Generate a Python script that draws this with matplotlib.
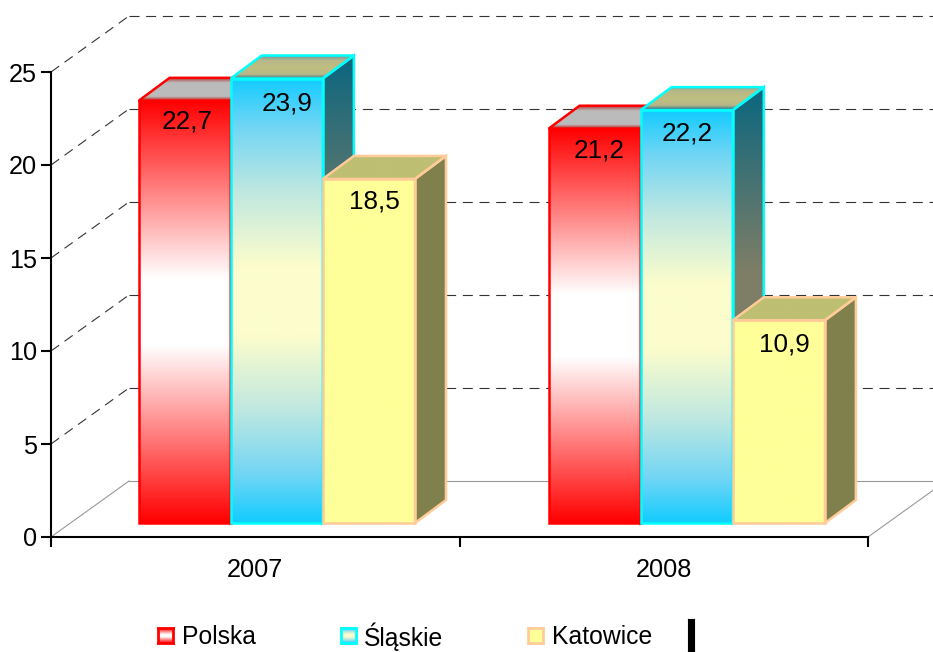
import numpy as np
import matplotlib
matplotlib.use("Agg")
import matplotlib.pyplot as plt
from matplotlib.colors import LinearSegmentedColormap
from matplotlib.patches import Polygon

plt.rcParams["font.family"] = ["Liberation Sans", "DejaVu Sans"]

years = ["2007", "2008"]
series_names = ["Polska", "Śląskie", "Katowice"]
polska = [22.7, 21.2]
slaskie = [23.9, 22.2]
katowice = [18.5, 10.9]
value_ticks = [0, 5, 10, 15, 20, 25]

W, H = 933, 652
PX_X = 408.5   # pixels per category
PX_Y = 18.6    # pixels per unit of value

bar_start = 0.2145
bar_w = 0.2255
group_step = 1.0035
base = 0.75    # bars stand in the middle of the floor
depth_x, depth_y = 31 / PX_X, 23 / PX_Y
wall_x, wall_y = 78 / PX_X, 56 / PX_Y


def cmap(*stops):
    return LinearSegmentedColormap.from_list("c", list(stops))


styles = {
    "Polska": dict(
        edge="#ff0000",
        front=cmap((0, "#ff0000"), (0.42, "#ffffff"), (0.58, "#ffffff"), (1, "#ff0000")),
        side=cmap((0, "#800000"), (0.42, "#808080"), (0.58, "#808080"), (1, "#800000")),
        top=cmap((0, "#c80000"), (0.2, "#bbbbbb"), (0.8, "#bbbbbb"), (1, "#b04040")),
    ),
    "Śląskie": dict(
        edge="#00ffff",
        front=cmap((0, "#13ccff"), (0.105, "#70d5f5"), (0.255, "#c0e8e0"), (0.42, "#fcfdcc"),
                   (0.58, "#fcfdcc"), (0.745, "#c0e8e0"), (0.895, "#70d5f5"), (1, "#13ccff")),
        side=cmap((0, "#0a6680"), (0.42, "#7e7e66"), (0.58, "#7e7e66"), (1, "#0a6680")),
        top=cmap((0, "#1a6f90"), (0.2, "#b8b888"), (0.5, "#bfbf80"), (0.8, "#b8b888"), (1, "#70a0a0")),
    ),
    "Katowice": dict(
        edge="#ffcc99",
        front=cmap((0, "#ffff99"), (1, "#ffff99")),
        side=cmap((0, "#80804d"), (1, "#80804d")),
        top=cmap((0, "#bfbf73"), (1, "#bfbf73")),
    ),
}
# small shifts of the value labels, in pixels from the bar centre / bar top
label_shift = {
    "Polska": [(3, -21), (5, -22)],
    "Śląskie": [(10, -25), (0, -23)],
    "Katowice": [(6, -23), (6, -24)],
}

fig = plt.figure(figsize=(W / 100, H / 100), dpi=100)
ax = fig.add_axes([51 / W, (H - 537) / H, 817 / W, 465 / H])
ax.patch.set_visible(False)


def grad_face(pts, colors, zorder):
    pts = np.array(pts)
    poly = Polygon(pts, closed=True, transform=ax.transData, fill=False, edgecolor="none")
    grad = np.linspace(0, 1, 256).reshape(-1, 1)
    im = ax.imshow(grad, cmap=colors, aspect="auto", origin="lower", zorder=zorder,
                   extent=[pts[:, 0].min(), pts[:, 0].max(), pts[:, 1].min(), pts[:, 1].max()])
    im.set_clip_box(fig.bbox)
    im.set_clip_path(poly)


def outline(pts, color, zorder):
    ax.add_patch(Polygon(pts, closed=True, fill=False, edgecolor=color, linewidth=1.8,
                         joinstyle="miter", clip_on=False, zorder=zorder))


# walls and grid
for v in value_ticks:
    col = "#999999" if v == 0 else "#333333"
    ls = "-" if v == 0 else (0, (9, 6))
    ax.plot([0, wall_x], [v, v + wall_y], color=col, lw=0.8, ls=ls, clip_on=False, zorder=1)
    ax.plot([wall_x, 2 + wall_x], [v + wall_y, v + wall_y], color=col, lw=0.8, ls=ls,
            clip_on=False, zorder=1)
ax.plot([2, 2 + wall_x], [0, wall_y], color="#999999", lw=0.8, clip_on=False, zorder=1)

# bars
z = 2
for i_year in range(len(years)):
    for j, (name, vals) in enumerate(zip(series_names, [polska, slaskie, katowice])):
        st = styles[name]
        x0 = i_year * group_step + bar_start + j * bar_w
        x1 = x0 + bar_w
        y1 = base + vals[i_year]
        side = [(x1, base), (x1 + depth_x, base + depth_y), (x1 + depth_x, y1 + depth_y), (x1, y1)]
        top = [(x0, y1), (x1, y1), (x1 + depth_x, y1 + depth_y), (x0 + depth_x, y1 + depth_y)]
        front = [(x0, base), (x1, base), (x1, y1), (x0, y1)]
        grad_face(side, st["side"], z)
        grad_face(top, st["top"], z)
        grad_face(front, st["front"], z)
        outline(side, st["edge"], z + 0.1)
        outline(top, st["edge"], z + 0.1)
        outline(front, st["edge"], z + 0.1)
        z += 1

# value labels on top of everything
for j, (name, vals) in enumerate(zip(series_names, [polska, slaskie, katowice])):
    for i_year, v in enumerate(vals):
        xc = i_year * group_step + bar_start + (j + 0.5) * bar_w
        ax.annotate(f"{v:.1f}".replace(".", ","), (xc, base + v),
                    xytext=label_shift[name][i_year], textcoords="offset pixels",
                    ha="center", va="center", fontsize=18.8, color="black",
                    annotation_clip=False, zorder=20)

ax.set_xlim(0, 2)
ax.set_ylim(0, 25)
for s in ["top", "right"]:
    ax.spines[s].set_visible(False)
for s in ["left", "bottom"]:
    ax.spines[s].set_linewidth(1.5)
ax.set_yticks(value_ticks)
ax.tick_params(axis="y", length=7, width=1.5, labelsize=18.2, pad=3)
ax.set_xticks([0, 1, 2])
ax.set_xticklabels([])
ax.tick_params(axis="x", which="major", length=7, width=1.5)
ax.set_xticks([0.5, 1.5], minor=True)
ax.set_xticklabels(years, minor=True, fontsize=18.2)
ax.tick_params(axis="x", which="minor", length=0, pad=15)

# legend
swatch_x = [158, 341, 528]
text_x = [182, 364, 552]
for name, sx, tx in zip(series_names, swatch_x, text_x):
    st = styles[name]
    sw = fig.add_axes([sx / W, (H - 643) / H, 15 / W, 15 / H])
    sw.imshow(np.linspace(0, 1, 64).reshape(-1, 1), cmap=st["front"], aspect="auto")
    sw.set_xticks([])
    sw.set_yticks([])
    for s in sw.spines.values():
        s.set_color(st["edge"])
        s.set_linewidth(2)
    fig.text(tx / W, (H - 634) / H, name, fontsize=17.8, va="center_baseline", ha="left", color="black")

mark = fig.add_axes([688 / W, (H - 651) / H, 6 / W, 32 / H])
mark.set_facecolor("black")
mark.set_xticks([])
mark.set_yticks([])

fig.savefig("out.png", dpi=100)
